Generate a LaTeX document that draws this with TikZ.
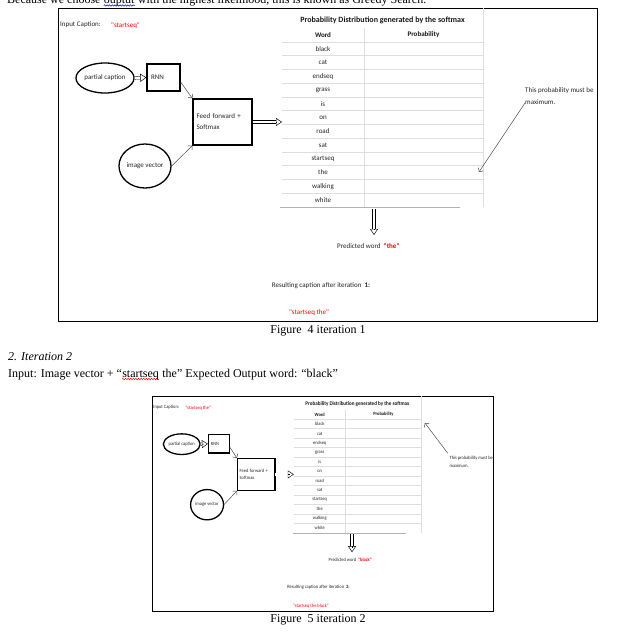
\documentclass[tikz,border=0pt]{standalone}
\usepackage{fontspec}
\setmainfont{Liberation Serif}
\newfontfamily\diafont{Carlito}
\usetikzlibrary{arrows.meta,shapes.geometric,decorations.pathmorphing,calc}

\tikzset{
  lbl/.style={font=\diafont\fontsize{7}{12}\selectfont, inner sep=0pt, text=black!85},
  lblb/.style={font=\diafont\bfseries\fontsize{8}{10}\selectfont, inner sep=0pt, text=black!90},
  ell/.style={ellipse, draw, line width=1.3pt, inner sep=0pt, font=\diafont\fontsize{7}{11}\selectfont, text=black!85},
  bx/.style={rectangle, draw, line width=1.4pt, inner ysep=0pt, font=\diafont\fontsize{7}{11}\selectfont, text=black!85},
  thinarr/.style={draw=black!70, line width=0.5pt, -{Straight Barb[length=3pt,width=6pt]}},
  gridln/.style={draw=black!13, line width=0.6pt},
  hshaft/.style={draw=black, double=white, line width=0.45pt, double distance=2.2pt, shorten >=6pt},
  htip/.style={draw=black, line width=0.45pt, -{Triangle[open,length=6pt,width=8pt,line width=0.45pt]}},
  body/.style={font=\fontsize{12}{14}\selectfont, inner sep=0pt},
  squig/.style={decorate, decoration={snake, amplitude=0.7pt, segment length=2.6pt}, line width=0.5pt},
}

\newcommand\hollowconn[2]{%
  \draw[hshaft] (#1) -- (#2);
  \draw[htip] ($(#2)!6pt!(#1)$) -- (#2);
}

% #1 prefix, #2 input caption, #3 predicted word, #4 iteration, #5 resulting caption, #6 variant
\newcommand\drawpanel[6]{%
  \draw[line width=0.9pt] (0,0) rectangle (539,313);
  \node[lbl, anchor=west] (#1inp) at (2,17) {Input Caption:};
  \node[lbl, anchor=west, text=red] (#1inq) at (53,18) {"#2"};
  \node[ell, minimum width=46, minimum height=30] (#1pc) at (47,70) {partial caption};
  \node[bx, minimum width=33, minimum height=27, text width=25, inner xsep=4, align=left] (#1rnn) at (105.5,69.5) {RNN};
  \node[bx, minimum width=59, minimum height=46, text width=52, inner xsep=3.5, align=left] (#1ff) at (164.5,114) {\mbox{Feed forward +}\\\mbox{Softmax}\\[-4pt]};
  \node[ell, minimum width=49, minimum height=44] (#1iv) at (87,158) {image vector};
  \hollowconn{#1pc.east}{#1rnn.west}
  \draw[thinarr] (#1rnn.-15) -- (#1ff.north west);
  \draw[thinarr] (#1iv.east) -- (#1ff.south west);
  \coordinate (#1tl) at (224,114);
  \hollowconn{#1ff.east}{#1tl}
  % table
  \node[lblb] (#1title) at (324.5,12) {Probability Distribution generated by the softmax};
  \node[lblb, font=\diafont\bfseries\fontsize{7}{9}\selectfont] (#1hw) at (265,27) {Word};
  \node[lblb, font=\diafont\bfseries\fontsize{7}{9}\selectfont] (#1hp) at (365.5,27) {Probability};
  \foreach \w [count=\i] in {black,cat,endseq,grass,is,on,road,sat,startseq,the,walking,white}
    {\node[lbl] (#1r\i) at (265,{27+13.75*\i}) {\w};}
  \foreach \i in {0,...,11}
    {\draw[gridln] (224,{33.875+13.75*\i}) -- (425,{33.875+13.75*\i});}
  \draw[gridln] (306,20) -- (306,199);
  \draw[gridln] (425,0) -- (425,199);
  \draw[draw=black!30, line width=0.6pt] (222,199) -- (402,199);
  % output
  \coordinate (#1d1) at (316,201);
  \coordinate (#1d2) at (316,227);
  \hollowconn{#1d1}{#1d2}
  \node[lbl, anchor=west] (#1pred) at (279,238) {Predicted word~~\textcolor{red}{\textbf{"#3"}}};
  \node[lbl] (#1res) at (263,278) {Resulting caption after iteration~~\textbf{#4:}};
  \node[lbl, text=red] (#1cap) at (251,305) {"#5"};
  \begin{scope}
    \clip (0,0) rectangle (539,313);
    \ifnum#6=1
      \node[lbl, anchor=north west, align=left] (#1note) at (467,79.5) {This probability must be\\maximum.};
      \coordinate (#1ns) at (467,95);
      \coordinate (#1ne) at (421,164);
    \else
      \node[lbl, anchor=north west, align=left] (#1note) at (470,87.5) {This probability must be\\maximum.};
      \coordinate (#1ns) at (467,83);
      \coordinate (#1ne) at (431,39);
    \fi
  \end{scope}
  \draw[thinarr] (#1ns) -- (#1ne);
}

\begin{document}
\begin{tikzpicture}[x=1pt,y=-1pt]
  \useasboundingbox[fill=white] (0,0) rectangle (617,635);
  % cut-off line at top
  \node[body, anchor=base west] (top1) at (7,3.5) {Because we choose};
  \node[body, anchor=base west, xshift=3pt] (top2) at (top1.base east) {ouptut};
  \node[body, anchor=base west, xshift=3pt] (top3) at (top2.base east) {with the highest likelihood, this is known as Greedy Search.};
  \draw[squig, blue] ($(top2.base west)+(0,2)$) -- ($(top2.base east)+(0,2)$);

  \begin{scope}[shift={(58,8)}]
    \drawpanel{a}{startseq}{the}{1}{startseq the}{1}
  \end{scope}
  \node[body] (cap1) at (318,331) {Figure\ \ 4 iteration 1};

  \node[body, font=\fontsize{12}{14}\selectfont\itshape, anchor=west] (it2) at (8,357) {2. Iteration 2};
  \node[body, anchor=base west] (in1) at (8,377) {Input: Image vector + “};
  \node[body, anchor=base west] (in2) at (in1.base east) {startseq};
  \node[body, anchor=base west] (in3) at (in2.base east) {\ the” Expected Output word: “black”};
  \draw[squig, red] ($(in2.base west)+(0,2)$) -- ($(in2.base east)+(0,2)$);

  \begin{scope}[shift={(152,396)}, xscale=0.633, yscale=0.688, transform shape]
    \drawpanel{b}{startseq the}{black}{2}{startseq the black}{2}
  \end{scope}
  \node[body] (cap2) at (318,620) {Figure\ \ 5 iteration 2};
\end{tikzpicture}
\end{document}
